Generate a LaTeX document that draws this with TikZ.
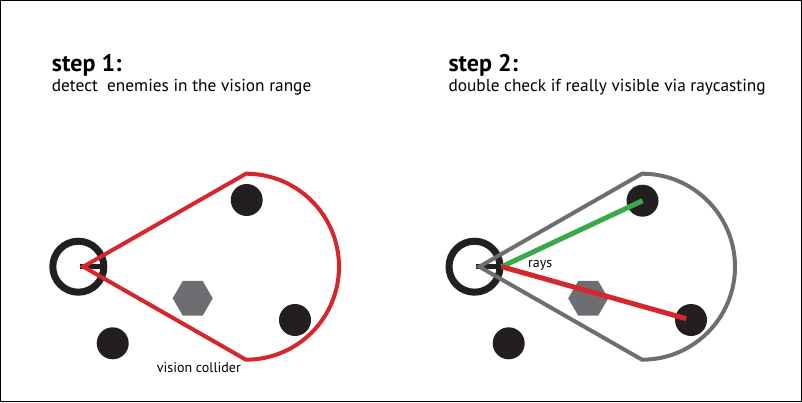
\documentclass[tikz,border=0pt]{standalone}
\usepackage{fontspec}
\setmainfont{PT Sans}
\usetikzlibrary{shapes.geometric, calc}
\definecolor{ink}{HTML}{231F20}
\definecolor{conered}{HTML}{D7262B}
\definecolor{conegray}{HTML}{6D6E71}
\definecolor{raygreen}{HTML}{3AAA49}
\tikzset{
  title/.style  = {anchor=base west, inner sep=0pt, font=\bfseries\fontsize{24}{28}\selectfont},
  sub/.style    = {anchor=base west, inner sep=0pt, font=\fontsize{17.3}{20}\selectfont},
  lbl/.style    = {anchor=base west, inner sep=0pt, font=\fontsize{14}{16}\selectfont},
  ring/.style   = {draw=ink, line width=7pt},
  nose/.style   = {draw=ink, line width=5pt},
  enemy/.style  = {circle, fill=ink, inner sep=0pt, minimum size=32pt},
  rock/.style   = {regular polygon, regular polygon sides=6, fill=conegray,
                   inner sep=0pt, minimum size=40pt},
  cone/.style   = {line width=4pt, line join=miter},
  ray/.style    = {line width=5pt},
}

\begin{document}
\begin{tikzpicture}[x=1pt, y=1pt]
    \useasboundingbox (0,0) rectangle (802,402);
    \draw[line width=1pt] (0.5,0.5) rectangle (801.5,401.5);

    \node[title] (head1) at (51.7,330.3) {step 1:};
    \node[sub]   (text1) at (51.7,310.3) {detect\ \ enemies in the vision range};
    \node[title] (head2) at (448.3,330.3) {step 2:};
    \node[sub]   (text2) at (448.3,310.3) {double check if really visible via raycasting};

    % step 1
    \draw[ring] (78.3,135.3) circle (25.5);
    \draw[nose] (80,135.3) -- (103,135.3);
    \node[enemy] (e1a) at (246.7,202) {};
    \node[enemy] (e1b) at (295,82) {};
    \node[enemy] (e1c) at (112.7,58.7) {};
    \node[rock]  (r1)  at (192.7,103.7) {};
    \draw[cone, draw=conered] (83.3,135.3) -- (246,228.3)
      arc[start angle=90, end angle=-90, radius=93] -- cycle;
    \node[lbl] (coll) at (156.7,29.3) {vision collider};

    % step 2
    \draw[ring] (474.5,135.3) circle (25.5);
    \draw[nose] (476,135.3) -- (499,135.3);
    \node[enemy] (e2a) at (642.5,201.3) {};
    \node[enemy] (e2b) at (691,82) {};
    \node[enemy] (e2c) at (508.7,58.7) {};
    \node[rock]  (r2)  at (588.2,103.7) {};
    \draw[cone, draw=conegray] (479.3,135.3) -- (642,228.3)
      arc[start angle=90, end angle=-90, radius=93] -- cycle;
    \coordinate (eye) at (501.7,135.3);
    \draw[ray, raygreen] (eye) -- (e2a.center);
    \draw[ray, conered] (eye) -- ($(eye)!0.975!(e2b.center)$);
    \node[lbl] (rays) at (528,134.7) {rays};
\end{tikzpicture}
\end{document}
